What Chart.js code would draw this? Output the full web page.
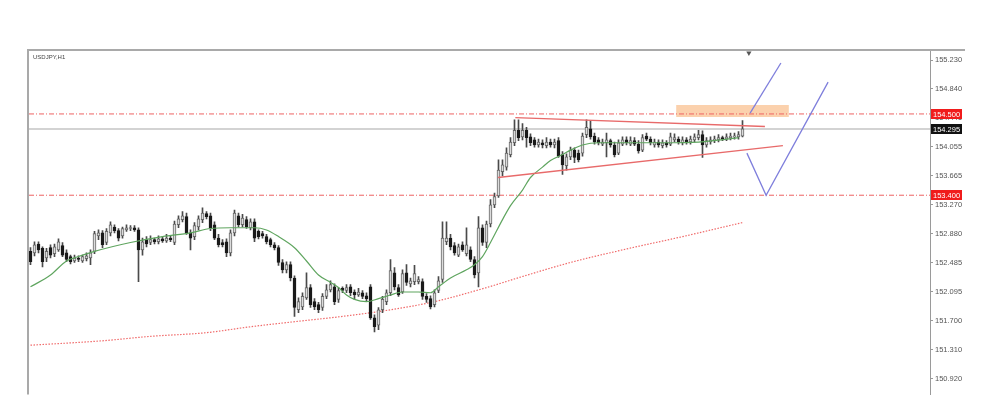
<!DOCTYPE html>
<html><head><meta charset="utf-8">
<script src="https://cdn.jsdelivr.net/npm/chart.js@4.4.0/dist/chart.umd.min.js"></script>
<style>html,body{margin:0;padding:0;background:#fff;overflow:hidden}#wrap{width:1000px;height:401px;position:relative}</style>
</head><body><div id="wrap"><canvas id="c" width="1000" height="401"></canvas></div>
<script>
const symbolLabel = 'USDJPY,H1';

const candleOpen = [
152.64,152.62,152.74,152.68,152.55,152.69,152.61,152.66,152.72,152.62,
152.57,152.51,152.55,152.51,152.54,152.55,152.64,152.85,152.89,152.76,
152.89,152.97,152.92,152.85,152.93,152.95,152.96,152.93,152.66,152.80,
152.76,152.80,152.77,152.81,152.78,152.82,152.76,153.00,153.07,153.11,
152.89,152.84,152.97,153.07,153.15,153.12,153.00,152.82,152.76,152.77,
152.62,152.89,153.12,153.00,153.07,152.96,153.04,152.91,152.88,152.84,
152.80,152.73,152.69,152.49,152.39,152.46,152.28,151.85,151.89,152.01,
152.15,151.96,151.92,151.88,152.03,152.12,152.16,151.99,152.14,152.11,
152.16,152.09,152.05,152.08,152.04,152.16,151.74,151.64,151.85,151.96,
152.08,152.35,152.15,152.09,152.35,152.20,152.23,152.23,152.23,152.03,
152.00,151.92,152.11,152.26,152.77,152.82,152.72,152.59,152.73,152.61,
152.66,152.53,152.35,152.96,152.76,153.01,153.27,153.39,153.72,153.78,
153.95,154.11,154.28,154.19,154.28,154.19,154.15,154.08,154.11,154.07,
154.12,154.08,154.14,153.95,153.80,153.92,154.01,153.97,153.97,154.22,
154.30,154.20,154.15,154.09,154.11,154.14,154.08,153.97,154.09,154.15,
154.09,154.14,154.09,154.01,154.20,154.16,154.08,154.12,154.07,154.11,
154.09,154.15,154.16,154.11,154.15,154.12,154.15,154.18,154.22,154.08,
154.12,154.14,154.15,154.18,154.16,154.18,154.19,154.19,154.20];

const candleHigh = [
152.69,152.77,152.77,152.70,152.68,152.73,152.74,152.81,152.76,152.66,
152.59,152.59,152.58,152.59,152.62,152.66,152.91,152.93,152.92,152.95,
153.04,153.00,152.95,152.97,153.00,152.99,152.99,152.96,152.82,152.84,
152.85,152.82,152.85,152.84,152.87,152.85,153.05,153.12,153.18,153.16,
152.93,153.03,153.12,153.23,153.18,153.16,153.04,152.87,152.80,152.81,
152.93,153.20,153.16,153.14,153.11,153.08,153.08,152.93,152.91,152.87,
152.82,152.76,152.72,152.53,152.50,152.50,152.31,152.01,152.08,152.35,
152.19,152.00,151.95,152.07,152.19,152.24,152.20,152.15,152.16,152.19,
152.19,152.12,152.14,152.11,152.08,152.19,151.78,151.88,152.03,152.12,
152.53,152.42,152.19,152.39,152.46,152.28,152.45,152.30,152.27,152.07,
152.04,152.12,152.30,153.04,153.04,152.87,152.76,152.74,152.77,152.96,
152.70,152.57,153.11,153.00,153.05,153.34,153.43,153.88,153.88,154.04,
154.18,154.42,154.42,154.37,154.32,154.23,154.18,154.16,154.15,154.18,
154.16,154.16,154.18,153.99,153.96,154.05,154.04,154.01,154.24,154.42,
154.41,154.24,154.18,154.16,154.24,154.16,154.12,154.15,154.19,154.19,
154.19,154.18,154.14,154.22,154.24,154.19,154.16,154.15,154.15,154.14,
154.24,154.23,154.19,154.19,154.18,154.20,154.23,154.28,154.27,154.18,
154.19,154.20,154.22,154.20,154.23,154.24,154.24,154.26,154.41];

const candleLow = [
152.46,152.58,152.62,152.43,152.50,152.55,152.57,152.64,152.57,152.50,
152.47,152.49,152.50,152.49,152.51,152.46,152.61,152.80,152.69,152.73,
152.85,152.89,152.78,152.82,152.91,152.92,152.91,152.23,152.59,152.70,
152.73,152.74,152.74,152.76,152.76,152.77,152.73,152.96,153.04,152.87,
152.66,152.80,152.93,153.03,153.08,152.92,152.80,152.70,152.70,152.57,
152.58,152.85,152.97,152.97,152.95,152.93,152.77,152.81,152.82,152.74,
152.70,152.66,152.45,152.35,152.35,152.24,151.76,151.81,151.85,151.99,
151.88,151.85,151.81,151.84,152.00,152.09,151.92,151.95,152.08,152.08,
152.04,151.99,152.03,152.00,151.96,151.72,151.55,151.58,151.81,151.92,
152.04,152.12,152.03,152.07,152.18,152.16,152.19,152.20,151.99,151.95,
151.86,151.89,152.08,152.22,152.73,152.66,152.59,152.57,152.64,152.58,
152.50,152.28,152.16,152.72,152.69,152.97,153.23,153.37,153.66,153.74,
153.92,154.07,154.14,154.15,154.05,154.07,154.05,154.05,154.04,154.04,
154.05,154.04,153.91,153.68,153.74,153.88,153.84,153.85,153.93,154.18,
154.16,154.09,154.08,154.07,153.92,154.05,153.92,153.95,154.07,154.08,
154.07,154.07,153.97,153.99,154.14,154.08,154.05,154.05,154.04,154.05,
154.07,154.12,154.09,154.08,154.09,154.09,154.12,154.15,153.91,154.05,
154.09,154.11,154.12,154.14,154.14,154.15,154.16,154.16,154.19];

const candleClose = [
152.50,152.73,152.66,152.50,152.64,152.59,152.70,152.77,152.59,152.53,
152.50,152.55,152.53,152.57,152.58,152.62,152.88,152.89,152.73,152.91,
153.00,152.92,152.82,152.95,152.96,152.96,152.93,152.66,152.77,152.74,
152.80,152.77,152.81,152.78,152.82,152.80,153.01,153.08,153.12,152.89,
152.82,152.99,153.08,153.16,153.11,152.96,152.82,152.73,152.73,152.62,
152.89,153.16,153.00,153.09,152.97,153.04,152.82,152.84,152.85,152.77,
152.73,152.69,152.49,152.39,152.46,152.28,151.88,151.96,152.03,152.15,
151.92,151.89,151.85,152.03,152.12,152.19,151.96,152.11,152.11,152.15,
152.08,152.05,152.09,152.03,152.00,151.74,151.62,151.85,151.99,152.08,
152.38,152.16,152.05,152.34,152.22,152.24,152.34,152.26,152.03,151.99,
151.89,152.08,152.24,152.82,152.82,152.70,152.62,152.70,152.66,152.73,
152.53,152.32,152.96,152.76,153.01,153.27,153.38,153.74,153.81,153.97,
154.12,154.28,154.18,154.28,154.18,154.11,154.08,154.12,154.08,154.12,
154.08,154.12,153.93,153.81,153.92,154.01,153.91,153.88,154.20,154.32,
154.19,154.12,154.11,154.12,154.15,154.08,153.95,154.11,154.15,154.11,
154.14,154.09,154.00,154.18,154.16,154.11,154.12,154.08,154.11,154.08,
154.19,154.18,154.12,154.15,154.12,154.16,154.19,154.22,154.08,154.14,
154.15,154.16,154.18,154.16,154.19,154.20,154.20,154.22,154.30];

// green moving average, read at selected bars
const maFastBar = [0,5,9,12,16,25,33,40,45,50,56,59,62,66,69,72,75,77,79,81,84,87,90,93,97,100,102,105,109,111,113,115,118,120,123,125,128,130,133,135,138,142,150,159,167,171,177];
const maFastVal = [152.16,152.32,152.51,152.57,152.64,152.76,152.84,152.89,152.95,152.96,152.96,152.93,152.84,152.69,152.51,152.32,152.22,152.15,152.05,151.99,151.96,152.00,152.05,152.09,152.09,152.08,152.16,152.28,152.39,152.46,152.57,152.76,153.07,153.26,153.47,153.64,153.78,153.87,153.95,154.01,154.08,154.11,154.11,154.11,154.12,154.14,154.18];

// red dotted moving average
const maSlowBar = [0,18,30,44,55,68,78,90,101,114,123,135,148,163,178];
const maSlowVal = [151.37,151.43,151.49,151.54,151.62,151.70,151.76,151.85,151.96,152.15,152.30,152.49,152.66,152.84,153.03];

const yTickValues = [155.230,154.840,154.445,154.055,153.665,153.270,152.880,152.485,152.095,151.700,151.310,150.920];
const levelPrices = [154.500,153.400];
const bidPrice = 154.295;

const upperTrendX = [121.2,183.6];
const upperTrendY = [154.45,154.33];
const lowerTrendX = [116.9,188.1];
const lowerTrendY = [153.64,154.07];

const zoneX = [161.4,189.6];
const zoneTop = 154.62;
const zoneBottom = 154.46;

const arrowAX = [179.1,183.9,199.4];
const arrowAY = [153.97,153.40,154.93];
const arrowBX = [179.9,187.6];
const arrowBY = [154.51,155.19];

const shiftMarkerX = 179.6;
const shiftMarkerY = 155.325;

const X_MIN = -0.375, X_MAX = 224.875;
const Y_MIN = 150.703, Y_MAX = 155.352;

const idx = candleOpen.map((_, i) => i);
const wickData = idx.map(i => ({x: i, y: [candleLow[i], candleHigh[i]]}));
const bodyData = idx.map(i => ({x: i, y: [candleOpen[i], candleClose[i]]}));
const isBull = idx.map(i => candleClose[i] >= candleOpen[i]);
const pts = (xs, ys) => xs.map((x, i) => ({x: x, y: Array.isArray(ys) ? ys[i] : ys}));

const lineBase = {type: 'line', pointRadius: 0, pointHoverRadius: 0, fill: false, tension: 0};

const overlay = {
  id: 'overlay',
  afterDraw(chart) {
    const ctx = chart.ctx, ys = chart.scales.y, area = chart.chartArea;
    ctx.save();
    ctx.fillStyle = '#a9a9a9';
    ctx.fillRect(27, area.top - 2, 938, 2);
    ctx.fillRect(27, area.top - 2, 2, area.bottom - area.top + 2);
    ctx.font = '6px "Liberation Sans", Arial, sans-serif';
    ctx.fillStyle = '#444';
    ctx.textBaseline = 'middle';
    ctx.textAlign = 'left';
    ctx.fillText(symbolLabel, 33, 57);
    ctx.font = '7.5px "Liberation Sans", Arial, sans-serif';
    const drawTag = (price, bg) => {
      const y = Math.round(ys.getPixelForValue(price));
      ctx.fillStyle = bg;
      ctx.fillRect(931, y - 5, 31, 10);
      ctx.fillStyle = '#fff';
      ctx.fillText(price.toFixed(3), 933, y + 0.5);
    };
    levelPrices.forEach(p => drawTag(p, '#f01c1c'));
    drawTag(bidPrice, '#111');
    ctx.restore();
  }
};

new Chart(document.getElementById('c'), {
  type: 'bar',
  data: {
    datasets: [
      Object.assign({}, lineBase, {data: pts(zoneX, zoneBottom), borderWidth: 0, borderColor: 'rgba(0,0,0,0)', order: 20}),
      Object.assign({}, lineBase, {data: pts(zoneX, zoneTop), borderWidth: 0, borderColor: 'rgba(0,0,0,0)', fill: '-1', backgroundColor: 'rgba(247,172,105,0.55)', order: 20}),
      Object.assign({}, lineBase, {data: pts([X_MIN, X_MAX], levelPrices[0]), borderColor: '#ee6262', borderWidth: 1, borderDash: [5, 2, 1, 2], order: 15}),
      Object.assign({}, lineBase, {data: pts([X_MIN, X_MAX], levelPrices[1]), borderColor: '#ee6262', borderWidth: 1, borderDash: [5, 2, 1, 2], order: 15}),
      Object.assign({}, lineBase, {data: pts([X_MIN, X_MAX], bidPrice), borderColor: '#c4c4c4', borderWidth: 1.5, order: 15}),
      Object.assign({}, lineBase, {data: pts(maSlowBar, maSlowVal), borderColor: '#f06a6a', borderWidth: 1.2, borderDash: [1.5, 1.5], cubicInterpolationMode: 'monotone', order: 14}),
      {type: 'bar', data: wickData, backgroundColor: '#4a4a4a', borderWidth: 0, barThickness: 1, grouped: false, order: 10},
      {type: 'bar', data: bodyData, backgroundColor: isBull.map(b => b ? '#dcdcdc' : '#1a1a1a'), borderColor: isBull.map(b => b ? '#666' : '#1a1a1a'), borderWidth: 1, borderSkipped: false, barThickness: 3, minBarLength: 1, grouped: false, order: 9},
      Object.assign({}, lineBase, {data: pts(maFastBar, maFastVal), borderColor: '#5fa55f', borderWidth: 1.2, cubicInterpolationMode: 'monotone', order: 5}),
      Object.assign({}, lineBase, {data: pts(upperTrendX, upperTrendY), borderColor: '#e86a6a', borderWidth: 1.3, order: 4}),
      Object.assign({}, lineBase, {data: pts(lowerTrendX, lowerTrendY), borderColor: '#e86a6a', borderWidth: 1.3, order: 4}),
      Object.assign({}, lineBase, {data: pts(arrowAX, arrowAY), borderColor: '#7f7fdc', borderWidth: 1.3, order: 3}),
      Object.assign({}, lineBase, {data: pts(arrowBX, arrowBY), borderColor: '#7f7fdc', borderWidth: 1.3, order: 3}),
      {type: 'scatter', data: [{x: shiftMarkerX, y: shiftMarkerY}], pointStyle: 'triangle', rotation: 180, pointRadius: 3, backgroundColor: '#555', borderColor: '#555', borderWidth: 0, clip: false, order: 1}
    ]
  },
  options: {
    responsive: false,
    devicePixelRatio: 1,
    animation: false,
    events: [],
    layout: {padding: {left: 29, top: 51, right: 0, bottom: 6}},
    plugins: {legend: {display: false}, tooltip: {enabled: false}, title: {display: false}},
    scales: {
      x: {type: 'linear', min: X_MIN, max: X_MAX, offset: false, display: false, grid: {display: false}},
      y: {
        type: 'linear', position: 'right', min: Y_MIN, max: Y_MAX,
        afterBuildTicks: s => { s.ticks = yTickValues.map(v => ({value: v})); },
        afterFit: s => { s.width = 70; },
        grid: {drawOnChartArea: false, drawTicks: true, tickLength: 3, color: '#999'},
        border: {display: true, color: '#9a9a9a', width: 1},
        ticks: {padding: 2, color: '#555', font: {family: '"Liberation Sans", Arial, sans-serif', size: 7.5}, callback: v => Number(v).toFixed(3)}
      }
    }
  },
  plugins: [overlay]
});
</script>
</body></html>
